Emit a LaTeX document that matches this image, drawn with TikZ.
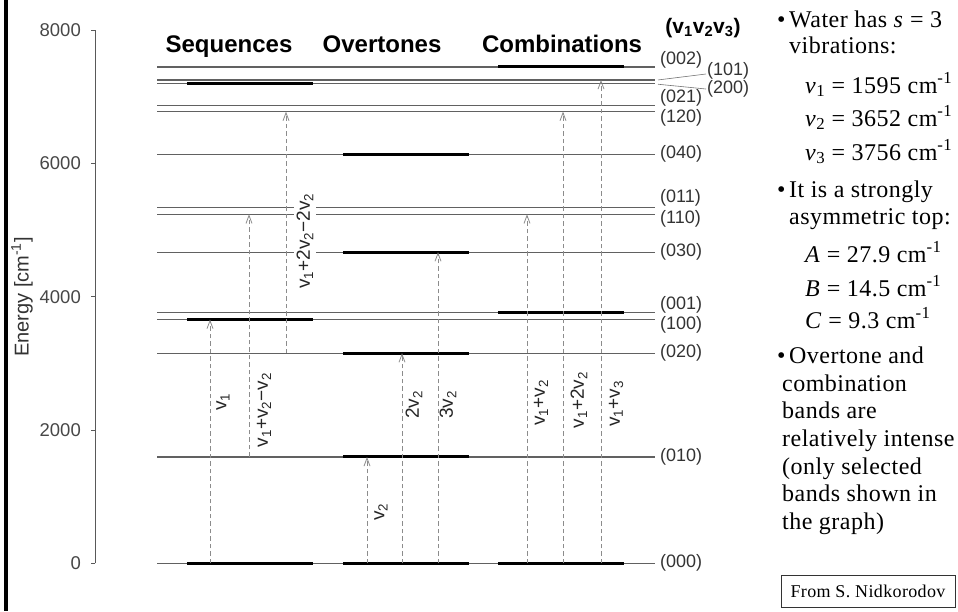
\documentclass[tikz,border=0pt]{standalone}
\usepackage{fontspec}
\setmainfont{Liberation Sans}
\newfontfamily\tnr[LetterSpace=2]{Liberation Serif}
\usetikzlibrary{arrows.meta}
\newcommand\ey[1]{563.3-#1/15}
\begin{document}
\begin{tikzpicture}[x=1pt,y=-1pt,
  level/.style={draw=black!62, line width=1.1pt},
  band/.style={draw=black, line width=3pt},
  trans/.style={draw=black!45, line width=0.8pt, dash pattern=on 4.5pt off 3pt,
    -{Straight Barb[length=8pt,width=6pt]}},
  lvlab/.style={anchor=west, inner sep=0pt, text=black!80, font=\fontsize{18}{18}\selectfont},
  tlab/.style={rotate=90, inner sep=1pt, text=black!85, font=\fontsize{19}{19}\selectfont},
  ttl/.style={anchor=base, inner sep=0pt, font=\fontsize{24}{24}\selectfont\bfseries},
  ticklab/.style={anchor=east, inner sep=0pt, text=black!72, font=\fontsize{18.5}{18.5}\selectfont},
  ptxt/.style={anchor=base west, inner sep=0pt, font=\tnr\fontsize{24}{24}\selectfont},
  conn/.style={draw=black!55, line width=0.6pt}
]
\useasboundingbox (0,0) rectangle (958,611);
% left border
\fill[black] (4,0) rectangle (7.5,611);

% axis
\coordinate (ax0) at (95,{\ey{0}});
\coordinate (ax8) at (95,{\ey{8000}});
\draw[draw=black!65, line width=0.9pt] (ax0) -- (ax8);
\foreach \v in {0,2000,4000,6000,8000}{
  \coordinate (tk\v) at (95,{\ey{\v}});
  \draw[draw=black!65, line width=0.9pt] (tk\v) -- ++(-4,0);
  \node[ticklab] (tl\v) at (81,{\ey{\v}}) {\v};
}
\node[rotate=90, text=black!80, font=\fontsize{20}{20}\selectfont] (elab) at (22,297) {Energy [cm\textsuperscript{-1}]};

% levels
\foreach \n/\E in {000/0,010/1595,020/3152,100/3657,001/3756,030/4667,110/5235,011/5331,040/6134,120/6775,021/6871,200/7201,101/7250,002/7445}{
  \coordinate (L\n w) at (157,{\ey{\E}});
  \coordinate (L\n e) at (655,{\ey{\E}});
  \draw[level] (L\n w) -- (L\n e);
}

% thick bands
\foreach \E in {0,3657,7201}{ \draw[band] (187,{\ey{\E}}) -- (313,{\ey{\E}}); }
\foreach \E in {0,1595,3152,4667,6134}{ \draw[band] (343,{\ey{\E}}) -- (469,{\ey{\E}}); }
\foreach \E in {0,3756,7445}{ \draw[band] (498,{\ey{\E}}) -- (624,{\ey{\E}}); }

% titles
\node[ttl] (tseq) at (229,52) {Sequences};
\node[ttl] (tovt) at (382,52) {Overtones};
\node[ttl] (tcmb) at (562,52) {Combinations};
\node[anchor=base, inner sep=0pt, font=\fontsize{21}{21}\selectfont\bfseries] (tq) at (703,33)
  {(v\textsubscript{1}v\textsubscript{2}v\textsubscript{3})};

% level labels
\node[lvlab] (n002) at (660,60) {(002)};
\node[lvlab] (n101) at (707,71) {(101)};
\node[lvlab] (n200) at (707,89) {(200)};
\node[lvlab] (n021) at (660,98) {(021)};
\node[lvlab] (n120) at (660,118) {(120)};
\node[lvlab] (n040) at (660,154) {(040)};
\node[lvlab] (n011) at (660,198) {(011)};
\node[lvlab] (n110) at (660,219) {(110)};
\node[lvlab] (n030) at (660,252) {(030)};
\node[lvlab] (n001) at (660,305) {(001)};
\node[lvlab] (n100) at (660,325) {(100)};
\node[lvlab] (n020) at (660,353) {(020)};
\node[lvlab] (n010) at (660,457) {(010)};
\node[lvlab] (n000) at (660,563) {(000)};
\coordinate (c101) at (658,{\ey{7250}});
\coordinate (c200) at (658,{\ey{7201}+1});
\draw[conn] (c101) -- ([xshift=-1pt,yshift=-3pt]n101.west);
\draw[conn] (c200) -- ([xshift=-1pt]n200.west);

% transition label with white background (interrupts levels)
\node[tlab, fill=white, inner sep=3pt] (lb3) at (305,241) {v\textsubscript{1}+2v\textsubscript{2}−2v\textsubscript{2}};

% transitions
\foreach \nm/\x/\a/\b in {t1/210/0/3657, t2/249/1595/5235, t3/286/3152/6775,
   t4/367/0/1595, t5/402/0/3152, t6/438/0/4667,
   t7/527/0/5235, t8/563/0/6775, t9/601/0/7250}{
  \coordinate (\nm s) at (\x,{\ey{\a}});
  \coordinate (\nm e) at (\x,{\ey{\b}});
  \draw[trans] (\nm s) -- (\nm e);
}

% transition labels
\node[tlab] (lb1) at (223,402) {v\textsubscript{1}};
\node[tlab] (lb2) at (264,410) {v\textsubscript{1}+v\textsubscript{2}−v\textsubscript{2}};
\node[tlab] (lb4) at (381,512) {v\textsubscript{2}};
\node[tlab] (lb5) at (414,405) {2v\textsubscript{2}};
\node[tlab] (lb6) at (448,405) {3v\textsubscript{2}};
\node[tlab] (lb7) at (541,403) {v\textsubscript{1}+v\textsubscript{2}};
\node[tlab] (lb8) at (579,400) {v\textsubscript{1}+2v\textsubscript{2}};
\node[tlab] (lb9) at (616,404) {v\textsubscript{1}+v\textsubscript{3}};

% right panel
\node[ptxt] (b1) at (777,27) {•};
\node[ptxt] (p1) at (789,27) {Water has \textit{s} = 3};
\node[ptxt] (p2) at (789,53) {vibrations:};
\node[ptxt] (p3) at (805,93) {\textit{v}\textsubscript{1} = 1595 cm\textsuperscript{-1}};
\node[ptxt] (p4) at (805,126) {\textit{v}\textsubscript{2} = 3652 cm\textsuperscript{-1}};
\node[ptxt] (p5) at (805,160) {\textit{v}\textsubscript{3} = 3756 cm\textsuperscript{-1}};
\node[ptxt] (b2) at (777,197) {•};
\node[ptxt] (p6) at (789,197) {It is a strongly};
\node[ptxt] (p7) at (789,224) {asymmetric top:};
\node[ptxt] (p8) at (805,262) {\textit{A} = 27.9 cm\textsuperscript{-1}};
\node[ptxt] (p9) at (805,296) {\textit{B} = 14.5 cm\textsuperscript{-1}};
\node[ptxt] (p10) at (805,328) {\textit{C} = 9.3 cm\textsuperscript{-1}};
\node[ptxt] (b3) at (777,363) {•};
\node[ptxt] (p11) at (789,363) {Overtone and};
\node[ptxt] (p12) at (782,391) {combination};
\node[ptxt] (p13) at (782,418) {bands are};
\node[ptxt] (p14) at (782,446) {relatively intense};
\node[ptxt] (p15) at (782,474) {(only selected};
\node[ptxt] (p16) at (782,501) {bands shown in};
\node[ptxt] (p17) at (782,529) {the graph)};
\node[draw=black!80, line width=0.8pt, minimum width=174pt, minimum height=32pt, inner sep=0pt,
  font=\tnr\fontsize{18}{18}\selectfont] (src) at (868,591) {From S. Nidkorodov};
\end{tikzpicture}
\end{document}
